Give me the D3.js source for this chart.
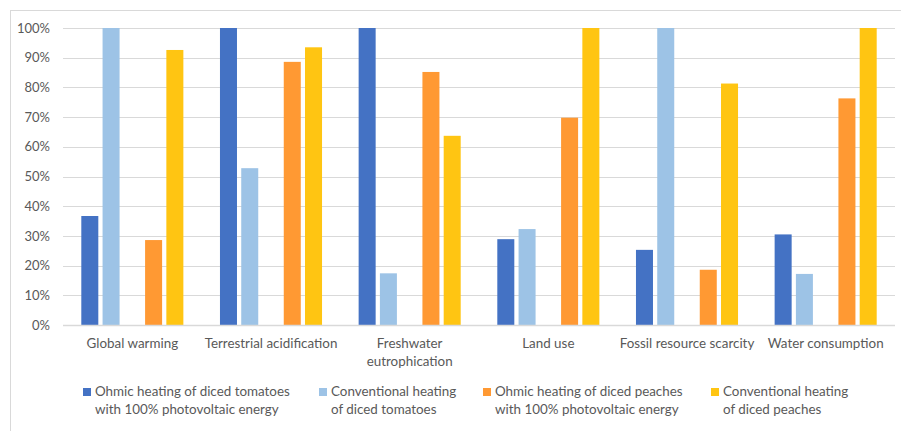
<!DOCTYPE html>
<html>
<head>
<meta charset="utf-8">
<script src="https://cdn.jsdelivr.net/npm/d3@7"></script>
<style>
  html, body { margin: 0; padding: 0; background: #fff; }
  svg { display: block; font-family: Lato, "Open Sans", sans-serif; }
</style>
</head>
<body>
<svg id="chart" width="901" height="431"></svg>
<script>
// Impact categories (x axis)
const categories = [
  ["Global warming"],
  ["Terrestrial acidification"],
  ["Freshwater", "eutrophication"],
  ["Land use"],
  ["Fossil resource scarcity"],
  ["Water consumption"]
];

// Relative impact (% of the worst option per category)
const ohmicTomatoes        = [36.7, 100, 100, 28.9, 25.3, 30.5];
const conventionalTomatoes = [100, 52.8, 17.4, 32.3, 100, 17.2];
const ohmicPeaches         = [28.6, 88.6, 85.2, 69.8, 18.6, 76.3];
const conventionalPeaches  = [92.6, 93.5, 63.7, 100, 81.3, 100];

const yTicks = [0, 10, 20, 30, 40, 50, 60, 70, 80, 90, 100];

const seriesNames = [
  ["Ohmic heating of diced tomatoes", "with 100% photovoltaic energy"],
  ["Conventional heating", "of diced tomatoes"],
  ["Ohmic heating of diced peaches", "with 100% photovoltaic energy"],
  ["Conventional heating", "of diced peaches"]
];
const seriesValues = [ohmicTomatoes, conventionalTomatoes, ohmicPeaches, conventionalPeaches];
const colors = ["#4472C4", "#9DC3E6", "#FF9933", "#FFC512"];
// Slot order within a group; the middle slot is left empty between the two products
const slots = ["s0", "s1", "gap", "s2", "s3"];

const svg = d3.select("#chart");
const plot = { left: 63, right: 895, top: 28, bottom: 325 };
const textColor = "#595959";
const fontSize = 13.4;

// Outer chart frame
svg.append("rect")
  .attr("x", 10.5).attr("y", 10.5)
  .attr("width", 900).attr("height", 430)
  .attr("fill", "none").attr("stroke", "#D9D9D9").attr("stroke-width", 1);

const x0 = d3.scaleBand()
  .domain(d3.range(categories.length))
  .range([plot.left, plot.right])
  .paddingInner(0).paddingOuter(0);

const groupW = x0.bandwidth() * 0.736;
const x1 = d3.scaleBand()
  .domain(slots)
  .range([(x0.bandwidth() - groupW) / 2, (x0.bandwidth() + groupW) / 2])
  .paddingInner(0.2).paddingOuter(0);

const y = d3.scaleLinear().domain([0, 100]).range([plot.bottom, plot.top]);

// Gridlines
svg.append("g")
  .selectAll("line")
  .data(yTicks.filter(t => t > 0))
  .join("line")
  .attr("x1", plot.left).attr("x2", plot.right)
  .attr("y1", d => Math.round(y(d)) + 0.5).attr("y2", d => Math.round(y(d)) + 0.5)
  .attr("stroke", "#D9D9D9").attr("stroke-width", 1);

// Y axis labels
const yAxis = d3.axisLeft(y).tickValues(yTicks).tickFormat(d => d + "%").tickSize(0).tickPadding(0);
const yg = svg.append("g").attr("transform", `translate(${plot.left - 13},0)`).call(yAxis);
yg.select(".domain").remove();
yg.selectAll("text").attr("fill", textColor).attr("font-size", 13).attr("font-family", "Lato, sans-serif");

// Bars
const groups = svg.append("g")
  .selectAll("g")
  .data(categories.map((c, i) => i))
  .join("g")
  .attr("transform", i => `translate(${x0(i)},0)`);

groups.selectAll("rect")
  .data(i => seriesValues.map((vals, s) => ({ s, v: vals[i] })))
  .join("rect")
  .attr("x", d => x1(slots[d.s < 2 ? d.s : d.s + 1]))
  .attr("width", x1.bandwidth())
  .attr("y", d => y(d.v))
  .attr("height", d => y(0) - y(d.v))
  .attr("fill", d => colors[d.s]);

// Baseline
svg.append("line")
  .attr("x1", plot.left).attr("x2", plot.right)
  .attr("y1", plot.bottom + 0.5).attr("y2", plot.bottom + 0.5)
  .attr("stroke", "#D9D9D9").attr("stroke-width", 1.5);

// X axis labels
const xl = svg.append("g")
  .selectAll("text")
  .data(categories)
  .join("text")
  .attr("x", (d, i) => x0(i) + x0.bandwidth() / 2)
  .attr("y", 348)
  .attr("text-anchor", "middle")
  .attr("fill", textColor)
  .attr("font-size", fontSize);
xl.selectAll("tspan")
  .data(d => d)
  .join("tspan")
  .attr("x", function () { return d3.select(this.parentNode).attr("x"); })
  .attr("dy", (d, j) => j === 0 ? 0 : 18)
  .text(d => d);

// Legend
const legendX = [83, 319, 483, 711];
const legend = svg.append("g")
  .selectAll("g")
  .data(seriesNames)
  .join("g")
  .attr("transform", (d, i) => `translate(${legendX[i]},0)`);

legend.append("rect")
  .attr("x", 0).attr("y", 388)
  .attr("width", 8).attr("height", 8)
  .attr("fill", (d, i) => colors[i]);

legend.append("text")
  .attr("y", 396)
  .attr("fill", textColor)
  .attr("font-size", fontSize)
  .selectAll("tspan")
  .data(d => d)
  .join("tspan")
  .attr("x", 12)
  .attr("dy", (d, j) => j === 0 ? 0 : 18)
  .text(d => d);
</script>
</body>
</html>
